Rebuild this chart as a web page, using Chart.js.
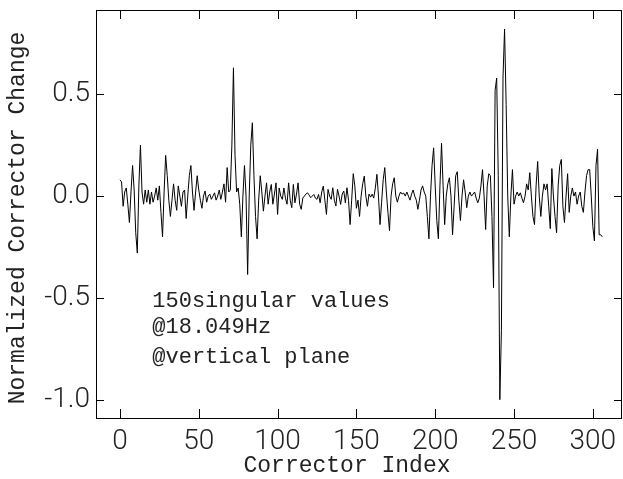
<!DOCTYPE html>
<html>
<head>
<meta charset="utf-8">
<script src="https://cdn.jsdelivr.net/npm/chart.js@4/dist/chart.umd.min.js"></script>
<style>
  html, body { margin: 0; padding: 0; background: #fff; }
  #wrap { width: 623px; height: 479px; position: relative; }
</style>
</head>
<body>
<div id="wrap"><canvas id="svdChart"></canvas></div>
<script>
// ─── DATA ─────────────────────────────────────────────────────────────────────
const X_TICKS = [0, 50, 100, 150, 200, 250, 300];
const Y_TICKS = [-1.0, -0.5, 0.0, 0.5];
const X_TITLE = 'Corrector Index';
const Y_TITLE = 'Normalized Corrector Change';
const NOTE_LINES = ['150singular values', '@18.049Hz', '@vertical plane'];

// normalized change per corrector, index 0..306
const CHANGE = [
  0.08, 0.07, -0.05, 0.02, 0.04, -0.04, -0.13, 0.02, 0.15, 0.03,
  -0.18, -0.28, 0.05, 0.25, 0.02, -0.04, 0.03, -0.03, 0.03, -0.04,
  0.02, -0.03, 0.0, 0.04, -0.02, 0.05, -0.08, -0.20, 0.02, 0.20,
  0.10, -0.02, -0.10, -0.02, 0.06, -0.02, -0.07, 0.05, 0.0, -0.05,
  0.02, 0.03, -0.11, 0.0, 0.10, 0.15, 0.02, -0.07, 0.02, 0.10,
  0.03, -0.02, -0.06, 0.0, 0.025, -0.03, 0.0, 0.01, -0.016, 0.0,
  0.016, -0.02, 0.0, 0.03, -0.016, 0.02, 0.06, -0.03, 0.14, 0.02,
  0.03, 0.25, 0.63, 0.20, 0.02, 0.04, -0.04, -0.20, 0.0, 0.15,
  0.0, -0.385, 0.0, 0.25, 0.36, 0.10, -0.10, -0.21, -0.02, 0.10,
  0.02, -0.074, 0.0, 0.065, -0.04, 0.02, 0.057, -0.04, 0.01, 0.065,
  -0.09, 0.04, 0.0, -0.016, 0.04, -0.01, -0.04, 0.065, -0.02, -0.057,
  0.057, -0.033, 0.01, 0.065, -0.04, -0.065, -0.01, 0.0, 0.01, 0.016,
  0.005, -0.008, 0.0, 0.008, -0.01, -0.016, 0.008, -0.033, 0.02, 0.049,
  -0.02, -0.09, 0.033, 0.0, -0.016, 0.041, -0.02, -0.049, 0.033, 0.0,
  -0.041, 0.01, 0.025, -0.033, 0.041, -0.02, -0.14, -0.02, 0.11, 0.05,
  -0.06, -0.02, -0.10, 0.0, 0.06, 0.098, 0.0, -0.05, 0.01, -0.005,
  0.01, -0.01, 0.04, 0.107, 0.0, -0.14, -0.03, 0.08, 0.14, 0.02,
  -0.08, -0.17, 0.0, 0.06, 0.09, 0.0, -0.03, 0.0, 0.02, 0.01,
  0.015, 0.0, 0.02, 0.0, -0.02, 0.01, 0.03, 0.0, -0.02, -0.065,
  -0.02, 0.03, 0.05, 0.02, 0.0, -0.10, -0.21, 0.0, 0.15, 0.237,
  0.05, -0.12, -0.21, 0.05, 0.26, 0.05, -0.14, 0.0, 0.06, 0.09,
  0.0, -0.19, -0.05, 0.10, 0.12, -0.02, -0.12, 0.0, 0.08, 0.02,
  -0.057, 0.0, 0.02, 0.0, 0.01, 0.02, -0.01, -0.033, -0.01, 0.05,
  0.13, 0.0, -0.164, 0.05, 0.11, 0.10, -0.10, -0.45, 0.52, 0.58,
  0.10, -1.0, -0.66, 0.58, 0.82, 0.45, 0.0, -0.20, 0.0, 0.13,
  -0.04, 0.0, 0.02, 0.0, 0.016, -0.01, -0.033, 0.0, 0.06, 0.03,
  0.115, 0.0, -0.10, -0.14, 0.05, 0.17, 0.0, -0.10, 0.0, 0.06,
  0.03, 0.06, -0.05, -0.16, 0.135, 0.0, -0.10, -0.18, 0.05, 0.15,
  0.18, -0.05, -0.13, 0.0, 0.11, -0.08, 0.0, 0.04, 0.0, 0.02,
  -0.04, 0.0, 0.02, -0.05, -0.08, 0.02, 0.10, 0.13, 0.13, 0.0,
  -0.15, -0.22, 0.15, 0.23, -0.19, -0.19, -0.20
];

const MONO = '"Liberation Mono", "DejaVu Sans Mono", monospace';
const INK = '#000';
const TEXT = '#222';

// ─── FRAME PLUGIN ─────────────────────────────────────────────────────────────
// box round the plot, ticks pointing inward on all four sides, titles and note
const framePlugin = {
  id: 'frame',
  afterDraw(chart) {
    const { ctx, chartArea: a, scales: { x, y } } = chart;
    ctx.save();
    ctx.strokeStyle = INK;
    ctx.lineWidth = 1;
    ctx.strokeRect(a.left + 0.5, a.top + 0.5, a.right - a.left - 1, a.bottom - a.top);

    ctx.beginPath();
    X_TICKS.forEach(v => {
      const px = Math.round(x.getPixelForValue(v)) + 0.5;
      ctx.moveTo(px, a.bottom); ctx.lineTo(px, a.bottom - 9);
      ctx.moveTo(px, a.top); ctx.lineTo(px, a.top + 9);
    });
    Y_TICKS.forEach(v => {
      const py = Math.round(y.getPixelForValue(v)) + 0.5;
      ctx.moveTo(a.left, py); ctx.lineTo(a.left + 8, py);
      ctx.moveTo(a.right, py); ctx.lineTo(a.right - 8, py);
    });
    ctx.stroke();

    ctx.fillStyle = TEXT;
    ctx.font = `23px ${MONO}`;
    ctx.textAlign = 'center';
    ctx.textBaseline = 'middle';
    ctx.fillText(X_TITLE, 347, 466);

    ctx.save();
    ctx.translate(18, 218);
    ctx.rotate(-Math.PI / 2);
    ctx.fillText(Y_TITLE, 0, 0);
    ctx.restore();

    // annotation sits in data space, lower left of the trace
    ctx.font = `22px ${MONO}`;
    ctx.textAlign = 'left';
    const noteY = [-0.515, -0.645, -0.79];
    NOTE_LINES.forEach((t, i) => {
      ctx.fillText(t, x.getPixelForValue(20.5), y.getPixelForValue(noteY[i]));
    });
    ctx.restore();
  }
};

// ─── CHART ────────────────────────────────────────────────────────────────────
const tickFont = { family: 'Roboto, "DejaVu Sans", sans-serif', size: 28, weight: '300' };

new Chart(document.getElementById('svdChart'), {
  type: 'line',
  data: {
    datasets: [{
      data: CHANGE.map((v, i) => ({ x: i, y: v })),
      borderColor: INK,
      borderWidth: 1,
      pointRadius: 0,
      tension: 0,
      fill: false
    }]
  },
  options: {
    responsive: true,
    maintainAspectRatio: false,
    animation: false,
    layout: { padding: { top: 10, right: 1, left: 0, bottom: 0 } },
    plugins: {
      legend: { display: false },
      tooltip: { enabled: false }
    },
    scales: {
      x: {
        type: 'linear',
        min: -15.2,
        max: 318.5,
        grid: { display: false, drawTicks: false },
        border: { display: false },
        afterBuildTicks: s => { s.ticks = X_TICKS.map(v => ({ value: v })); },
        afterFit: s => { s.height = 61; s.paddingLeft = 0; s.paddingRight = 0; },
        ticks: {
          color: TEXT,
          font: tickFont,
          padding: 7,
          maxRotation: 0,
          autoSkip: false,
          callback: v => String(v)
        }
      },
      y: {
        min: -1.09,
        max: 0.914,
        grid: { display: false, drawTicks: false },
        border: { display: false },
        afterBuildTicks: s => { s.ticks = Y_TICKS.map(v => ({ value: v })); },
        afterFit: s => { s.width = 96; s.paddingTop = 0; s.paddingBottom = 0; },
        ticks: {
          color: TEXT,
          font: tickFont,
          padding: 6,
          callback: v => v.toFixed(1)
        }
      }
    }
  },
  plugins: [framePlugin]
});
</script>
</body>
</html>
